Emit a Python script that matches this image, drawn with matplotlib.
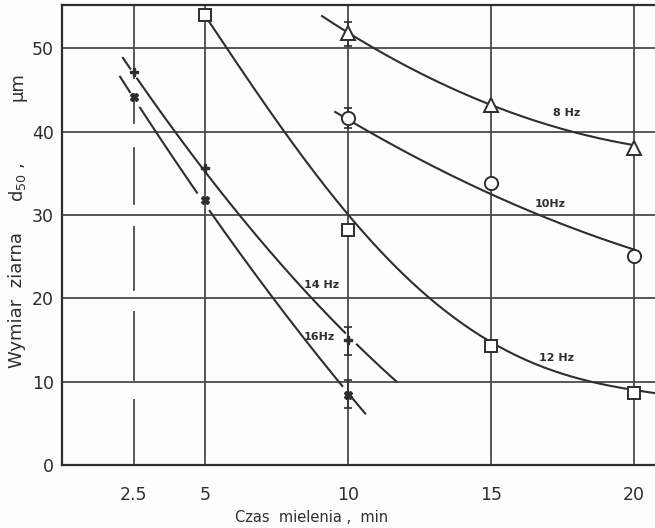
import numpy as np
import matplotlib
matplotlib.use("Agg")
import matplotlib.pyplot as plt

# ---------------- data ----------------
x_ticks = [2.5, 5, 10, 15, 20]
x_tick_labels = ["2.5", "5", "10", "15", "20"]
y_ticks = [0, 10, 20, 30, 40, 50]

# measured points (time, d50)
t8 = [10, 15, 20];        d8 = [51.8, 43.2, 38.0]
t10 = [10, 15, 20];       d10 = [41.6, 33.8, 25.1]
t12 = [5, 10, 15, 20];    d12 = [54.0, 28.2, 14.3, 8.7]
t14 = [2.5, 5, 10];       d14 = [47.1, 35.6, 15.0]
t16 = [2.5, 5, 10];       d16 = [44.1, 31.8, 8.4]

# scatter ranges at 10 min
err_t = [10, 10, 10, 10]
err_lo = [50.3, 40.5, 13.2, 6.8]
err_hi = [53.2, 42.8, 16.6, 10.2]
err_mid = [51.8, 41.6, 15.0, 8.4]

# fitted curves
c8_x = [9.09, 10, 15, 17.76, 20]
c8_y = [54.1, 51.6, 43.2, 40.2, 38.3]
c10_x = [9.55, 10, 15, 16.8, 20]
c10_y = [42.6, 41.2, 32.4, 30.0, 25.8]
c12_x = [5, 6.92, 7.62, 9.6, 11.1, 12.87, 13.9, 15, 18.57, 20, 20.73]
c12_y = [54.0, 43.8, 41.0, 31.8, 25.8, 19.8, 17.4, 14.6, 10.0, 9.0, 8.6]
c14_x = [2.13, 2.5, 5, 8.32, 10, 11.7]
c14_y = [48.6, 47.1, 35.6, 21.3, 15.3, 10.2]
c16_x = [2.03, 2.5, 5, 8.32, 10, 10.6]
c16_y = [46.4, 44.1, 31.8, 15.2, 8.7, 6.4]

labels = ["8 Hz", "10Hz", "12 Hz", "14 Hz", "16Hz"]
label_x = [17.65, 17.07, 17.3, 9.06, 9.0]
label_y = [42.2, 31.3, 12.8, 21.6, 15.3]

# ---------------- helpers ----------------
def fit(xs, ys, deg, n=200):
    c = np.polyfit(xs, ys, deg)
    sx = np.linspace(min(xs), max(xs), n)
    return sx, np.polyval(c, sx)

INK = "#2e2e2e"
GRID = "#4a4a4a"
BG = "#fdfdfd"
plt.rcParams['font.family'] = ['DejaVu Sans']

fig = plt.figure(figsize=(6.55, 5.28), dpi=100, facecolor=BG)
ax = fig.add_axes([62/655, 63/528, 1 - 62/655, (465-5)/528])
ax.set_facecolor(BG)
ax.set_xlim(0, 20.73)
ax.set_ylim(0, 55.2)

# grid
for yv in y_ticks[1:]:
    ax.axhline(yv, color=GRID, lw=1.3, zorder=1)
for xv in x_ticks[1:]:
    ax.axvline(xv, color=GRID, lw=1.3, zorder=1)
# broken line at 2.5 min
dash_segments = [(0, 7.8), (10.2, 18.4), (21, 28.5), (31.3, 38), (41, 44.5), (46.4, 47.2), (47.6, 55.2)]
for a, b in dash_segments:
    ax.plot([2.5, 2.5], [a, b], color=GRID, lw=1.3, zorder=1)

# curves
for cx, cy, dg in ((c8_x, c8_y, 2), (c10_x, c10_y, 2), (c12_x, c12_y, 4)):
    sx, sy = fit(cx, cy, dg)
    ax.plot(sx, sy, color=INK, lw=1.5, zorder=3)

def pieces(cx, cy, ranges):
    sx, sy = fit(cx, cy, 2, 600)
    for a, b in ranges:
        m = (sx >= a) & (sx <= b)
        ax.plot(sx[m], sy[m], color=INK, lw=1.5, zorder=3)

pieces(c14_x, c14_y, [(2.13, 2.4), (2.62, 9.9), (10.3, 11.7)])
pieces(c16_x, c16_y, [(2.03, 2.38), (2.73, 4.72), (5.15, 9.8), (10.07, 10.6)])

# error ranges
ax.errorbar(err_t, err_mid,
            yerr=[np.subtract(err_mid, err_lo), np.subtract(err_hi, err_mid)],
            fmt="none", ecolor=INK, elinewidth=1.2, capsize=3, capthick=1.2, zorder=2)

# markers
mk = dict(color=INK, mfc=BG, mec=INK, mew=1.4, ls="none", zorder=5, clip_on=False)
ax.plot(t8, d8, marker="^", ms=10, **mk)
ax.plot(t10, d10, marker="o", ms=9.5, **mk)
ax.plot(t12, d12, marker="s", ms=9, **mk)
ax.plot(t14, d14, marker="P", ms=6, color=INK, ls="none", zorder=5)
ax.plot(t16, d16, marker="X", ms=6, color=INK, ls="none", zorder=5)

for s, lx, ly in zip(labels, label_x, label_y):
    ax.text(lx, ly, s, fontsize=8, fontweight="bold", color=INK, ha="center", va="center", zorder=6)

# axes styling
for side in ("left", "top", "bottom"):
    ax.spines[side].set_color(INK)
    ax.spines[side].set_linewidth(1.6)
ax.spines["right"].set_visible(False)
ax.set_xticks(x_ticks)
ax.set_xticklabels(x_tick_labels)
ax.set_yticks(y_ticks)
ax.tick_params(axis="both", length=0, labelsize=12.5, colors=INK)
ax.tick_params(axis="x", pad=15)
ax.tick_params(axis="y", pad=6)

fig.text(312/655, 1 - 518/528, "Czas  mielenia ,  min", fontsize=10.5, color=INK, ha="center", va="center")
fig.text(17/655, 1 - 300/528, "Wymiar  ziarna", fontsize=13, color=INK, rotation=90, ha="center", va="center")
fig.text(17/655, 1 - 182/528, "d$_{50}$ ,", fontsize=13, color=INK, rotation=90, ha="center", va="center")
fig.text(17/655, 1 - 87/528, "µm", fontsize=13, color=INK, rotation=90, ha="center", va="center")

fig.savefig("out.png", dpi=100, facecolor=fig.get_facecolor())
